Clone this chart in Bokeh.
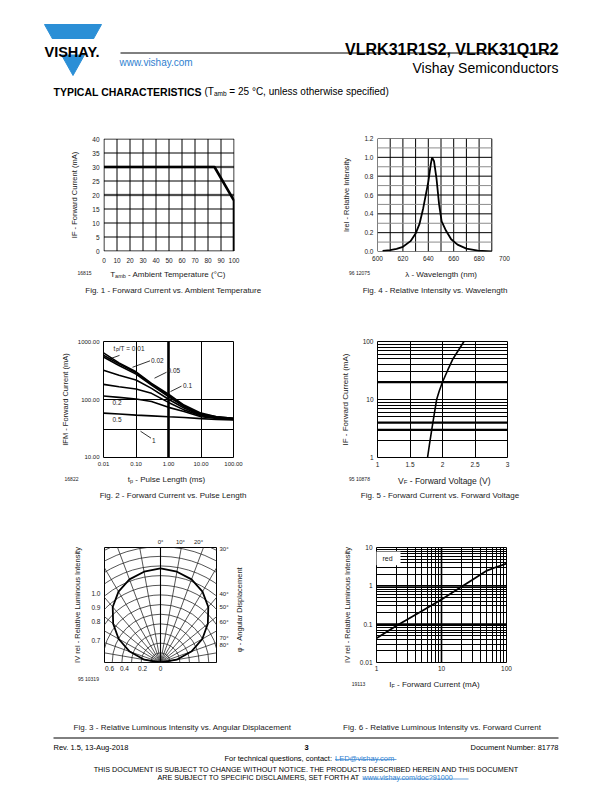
import math
from bokeh.plotting import figure
from bokeh.models import (Range1d, FixedTicker, Label, Span, LinearAxis,
                          PrintfTickFormatter, CustomJSTickFormatter)
from bokeh.layouts import column, row
from bokeh.core.properties import value
from bokeh.embed import file_html
from bokeh.resources import INLINE

FONT = "Liberation Sans"
INK = "#1a1a1a"
BLUE = "#2b8fd6"
LINK = "#2f7fd0"

# ---------------- data ----------------
# Fig. 1 - Forward Current vs. Ambient Temperature
fig1_tamb = [0, 85, 100, 100]
fig1_if = [30, 30, 18, 0]
fig1_xticks = [0, 10, 20, 30, 40, 50, 60, 70, 80, 90, 100]
fig1_yticks = [0, 5, 10, 15, 20, 25, 30, 35, 40]
fig1_gray = [20, 30]

# Fig. 4 - Relative Intensity vs. Wavelength
fig4_wl = [604, 610, 615, 620, 626, 630, 633, 636, 640, 642, 643, 644.5,
           646.5, 648.5, 650.5, 654, 658, 663, 670, 679, 690]
fig4_rel = [0.007, 0.015, 0.028, 0.05, 0.11, 0.19, 0.29, 0.46, 0.74, 0.93, 1.0, 0.96,
            0.77, 0.5, 0.32, 0.22, 0.13, 0.073, 0.031, 0.01, 0.0]
fig4_xticks = [600, 620, 640, 660, 680, 700]
fig4_yticks = [0.0, 0.2, 0.4, 0.6, 0.8, 1.0, 1.2]
fig4_xgrid = [600, 610, 620, 630, 640, 650, 660, 670, 680, 690]
fig4_ygrid = [0.0, 0.1, 0.2, 0.3, 0.4, 0.5, 0.6, 0.7, 0.8, 0.9, 1.0, 1.1, 1.2]

# Fig. 2 - Forward Current vs. Pulse Length (one list per duty cycle tp/T)
fig2_tp = [0.01, 0.03, 0.1, 0.3, 1, 3, 10, 30, 100]
fig2_ifm_d001 = [645, 434, 303, 190, 124, 80, 58, 50, 47]
fig2_ifm_d002 = [589, 416, 291, 185, 118, 77, 56, 50, 47]
fig2_ifm_d005 = [550, 390, 276, 178, 112, 75, 55, 49, 46]
fig2_ifm_d01 = [324, 265, 218, 156, 101, 71, 53, 49, 45.5]
fig2_ifm_d02 = [183, 167, 152, 128, 89, 66, 52, 48, 45.5]
fig2_ifm_d05 = [115, 109, 102, 92, 73, 62, 50, 47, 45]
fig2_ifm_d1 = [58, 56, 53.5, 52, 50, 48.5, 46.5, 45, 44]
fig2_xticks = [0.01, 0.1, 1, 10, 100]
fig2_yticks = [10, 100, 1000]
fig2_xgrid = [0.1, 10]
fig2_ygrid = [30, 100]

# Fig. 5 - Forward Current vs. Forward Voltage
fig5_vf = [1.77, 1.80, 1.83, 1.87, 1.91, 1.95, 2.00, 2.08, 2.16, 2.25, 2.33]
fig5_if = [1.0, 1.7, 2.8, 5.3, 10, 14, 20, 32, 50, 72, 100]
fig5_xticks = [1, 1.5, 2, 2.5, 3]
fig5_yticks = [1, 10, 100]
fig5_xgrid = [1.5, 2, 2.5]
fig5_ygrid = [2, 3, 4, 5, 6, 7, 8, 9, 10, 20, 30, 40, 50, 60, 70, 80, 90]
fig5_ybold = [3, 4, 20]

# Fig. 3 - Relative Luminous Intensity vs. Angular Displacement
fig3_angle = [-90, -80, -70, -60, -50, -40, -30, -20, -10, 0, 10, 20, 30, 40, 50, 60, 70, 80, 90]
fig3_rel = [0.0, 0.17, 0.34, 0.5, 0.64, 0.77, 0.87, 0.94, 0.98, 1.0,
            0.98, 0.94, 0.87, 0.77, 0.64, 0.5, 0.34, 0.17, 0.0]
fig3_circles = [0.1, 0.2, 0.3, 0.4, 0.5, 0.6, 0.7, 0.8, 0.9, 1.0, 1.1, 1.2, 1.3]
fig3_rays = [-90, -80, -70, -60, -50, -40, -30, -20, -10, 0, 10, 20, 30, 40, 50, 60, 70, 80, 90]
fig3_left_pos = [0.732, 0.587, 0.432, 0.235]
fig3_left_lab = ["1.0", "0.9", "0.8", "0.7"]
fig3_right_pos = [1.208, 0.732, 0.587, 0.432, 0.256, 0.183]
fig3_right_lab = ["30°", "40°", "50°", "60°", "70°", "80°"]
fig3_top_pos = [0.0, 0.207, 0.394]
fig3_top_lab = ["0°", "10°", "20°"]
fig3_bot_pos = [-0.528, -0.373, -0.186, 0.0]
fig3_bot_lab = ["0.6", "0.4", "0.2", "0"]

# Fig. 6 - Relative Luminous Intensity vs. Forward Current
fig6_if = [1, 2, 5, 10, 20, 30, 50, 70, 100]
fig6_iv = [0.043, 0.09, 0.22, 0.44, 0.93, 1.45, 2.5, 3.1, 3.8]
fig6_xticks = [1, 10, 100]
fig6_yticks = [0.01, 0.1, 1, 10]
fig6_xgrid = [2, 3, 4, 5, 6, 7, 8, 9, 10, 20, 30, 40, 50, 60, 70, 80, 90]
fig6_ygrid = [0.02, 0.03, 0.04, 0.05, 0.06, 0.07, 0.08, 0.09, 0.1,
              0.2, 0.3, 0.4, 0.5, 0.6, 0.7, 0.8, 0.9, 1, 2, 3, 4, 5, 6, 7, 8, 9]
fig6_xbold = [10]
fig6_ybold = [0.1, 1]

# ---------------- text metrics (Helvetica/Arial widths per 1000 em) ----------------
_W = {" ": 278, "!": 278, "(": 333, ")": 333, "-": 333, ".": 278, "/": 278, ",": 278,
      ":": 278, "=": 584, "°": 400, "@": 1015, "?": 556, "λ": 560, "φ": 600,
      "A": 667, "B": 667, "C": 722, "D": 722, "E": 667, "F": 611, "G": 778, "H": 722,
      "I": 278, "J": 500, "K": 667, "L": 556, "M": 833, "N": 722, "O": 778, "P": 667,
      "Q": 778, "R": 722, "S": 667, "T": 611, "U": 722, "V": 667, "W": 944, "X": 667,
      "Y": 667, "Z": 611, "a": 556, "b": 556, "c": 500, "d": 556, "e": 556, "f": 278,
      "g": 556, "h": 556, "i": 222, "j": 222, "k": 500, "l": 222, "m": 833, "n": 556,
      "o": 556, "p": 556, "q": 556, "r": 333, "s": 500, "t": 278, "u": 556, "v": 500,
      "w": 722, "x": 500, "y": 500, "z": 500}


def text_width(s, size):
    return sum(_W.get(ch, 556) for ch in s) * size / 1000.0


# ---------------- helpers ----------------
def to_data(g, px, py):
    fx = (px - g["L"]) / (g["R"] - g["L"])
    fy = (g["B"] - py) / (g["B"] - g["T"])

    def interp(a, b, f, log):
        if log:
            la, lb = math.log10(a), math.log10(b)
            return 10 ** (la + f * (lb - la))
        return a + f * (b - a)
    return interp(g["x0"], g["x1"], fx, g["xlog"]), interp(g["y0"], g["y1"], fy, g["ylog"])


def lab(p, g, px, py, s, size="7.5px", align="center", baseline="middle", bg=None):
    x, y = to_data(g, px, py)
    l = Label(x=x, y=y, text=s, text_font=FONT, text_font_size=size,
              text_align=align, text_baseline=baseline, text_color=INK)
    if bg is not None:
        l.background_fill_color = bg
    p.add_layout(l)


def num_fmt():
    return CustomJSTickFormatter(code="return String(Math.round(tick * 1000) / 1000);")


def list_fmt(pos, labels):
    return CustomJSTickFormatter(args=dict(tpos=pos, tlab=labels), code="""
        let best = 0; let bd = Infinity;
        for (let i = 0; i < tpos.length; i++) {
            const d = Math.abs(tpos[i] - tick);
            if (d < bd) { bd = d; best = i; }
        }
        return tlab[best];
    """)


def style_axis(ax, tick_size="6.5px", label_size="7.5px", standoff=4, label_standoff=4):
    ax.axis_line_color = None
    ax.major_tick_in = 0
    ax.major_tick_out = 0
    ax.minor_tick_in = 0
    ax.minor_tick_out = 0
    ax.major_tick_line_color = None
    ax.minor_tick_line_color = None
    ax.major_label_text_font = FONT
    ax.major_label_text_font_size = tick_size
    ax.major_label_text_color = INK
    ax.major_label_standoff = standoff
    ax.axis_label_text_font = FONT
    ax.axis_label_text_font_size = label_size
    ax.axis_label_text_font_style = "normal"
    ax.axis_label_text_color = INK
    ax.axis_label_standoff = label_standoff


def chart(g, x_type="linear", y_type="linear"):
    p = figure(width=g["right"] - g["left"], height=g["bottom"] - g["top"],
               x_range=Range1d(g["x0"], g["x1"]), y_range=Range1d(g["y0"], g["y1"]),
               x_axis_type=x_type, y_axis_type=y_type,
               output_backend="svg", toolbar_location=None,
               min_border_left=g["L"] - g["left"], min_border_right=g["right"] - g["R"],
               min_border_top=g["T"] - g["top"], min_border_bottom=g["bottom"] - g["B"])
    p.background_fill_color = "white"
    p.border_fill_color = "white"
    p.outline_line_color = "black"
    p.outline_line_width = 1
    p.outline_line_alpha = 1
    p.grid.grid_line_color = "black"
    p.grid.grid_line_width = 1
    p.grid.grid_line_alpha = 1
    p.grid.minor_grid_line_color = None
    return p


def page_fig(w, h, x_left, y_top):
    p = figure(width=w, height=h, x_range=Range1d(x_left, x_left + w),
               y_range=Range1d(y_top + h, y_top),
               output_backend="svg", toolbar_location=None,
               x_axis_location=None, y_axis_location=None,
               min_border_left=0, min_border_right=0, min_border_top=0, min_border_bottom=0)
    p.grid.visible = False
    p.outline_line_color = None
    p.background_fill_color = "white"
    p.border_fill_color = "white"
    return p


def txt(p, x, y, s, size, style="normal", align="left", color=INK, baseline="alphabetic"):
    p.text(x=[x], y=[y], text=[s], text_font=value(FONT), text_font_size=value(size),
           text_font_style=value(style), text_align=align, text_baseline=baseline,
           text_color=color)


def rich(p, x, y, parts, align="left", color=INK):
    """parts: (text, font size in px, baseline shift in px)"""
    total = sum(text_width(t, s) for t, s, _ in parts)
    if align == "center":
        x -= total / 2.0
    elif align == "right":
        x -= total
    for t, s, dy in parts:
        lead = len(t) - len(t.lstrip(" "))
        txt(p, x + text_width(" " * lead, s), y + dy, t.strip(" "), "%gpx" % s, color=color)
        x += text_width(t, s)


# ---------------- header (page y 0..128) ----------------
hdr = page_fig(612, 128, 0, 0)
hdr.patch([44, 101, 72.5], [24, 24, 75], color=BLUE)
hdr.quad(left=[38], right=[108], top=[39], bottom=[53.5], color="white")
txt(hdr, 71.5, 51.5, "VISHAY.", "14.5px", style="bold", align="center", color="black")
hdr.segment(x0=[120], y0=[52.5], x1=[558], y1=[52.5], line_color="black", line_width=1)
txt(hdr, 558, 48.5, "VLRK31R1S2, VLRK31Q1R2", "16px", style="bold", align="right", color="black")
txt(hdr, 119, 62, "www.vishay.com", "10px", color=LINK)
txt(hdr, 558, 67.5, "Vishay Semiconductors", "14px", align="right", color="black")
txt(hdr, 53, 91, "TYPICAL CHARACTERISTICS", "10.5px", style="bold", color="black")
rich(hdr, 204, 91, [("(T", 10, 0), ("amb", 6.5, 2.2),
                    (" = 25 °C, unless otherwise specified)", 10, 0)], color="black")

# ---------------- row 1 charts (page y 128..267) ----------------
# frame 131 x 113 px: 1.3 px per °C and 2.8 px per mA, grid lines on pixel centres
g1 = dict(left=0, right=306, top=128, bottom=267, L=103, R=234, T=138, B=251,
          x0=-0.5 / 1.3, x1=100 + 0.5 / 1.3, y0=-0.5 / 2.8, y1=40 + 0.5 / 2.8,
          xlog=False, ylog=False)
f1 = chart(g1)
f1.grid.visible = False
f1.outline_line_color = None
f1.xaxis.ticker = FixedTicker(ticks=fig1_xticks)
f1.yaxis.ticker = FixedTicker(ticks=fig1_yticks)
style_axis(f1.xaxis[0], standoff=6)
style_axis(f1.yaxis[0], label_standoff=10)
f1.yaxis.axis_label = "IF - Forward Current (mA)"
gx, gy = fig1_xticks, fig1_yticks
f1.segment(x0=[fig1_xticks[0]] * len(fig1_gray), y0=fig1_gray,
           x1=[fig1_xticks[-1]] * len(fig1_gray), y1=fig1_gray,
           line_color="#9a9a9a", line_width=2.4)
f1.segment(x0=gx, y0=[gy[0]] * len(gx), x1=gx, y1=[gy[-1]] * len(gx),
           line_color="black", line_width=1)
f1.segment(x0=[gx[0]] * len(gy), y0=gy, x1=[gx[-1]] * len(gy), y1=gy,
           line_color="black", line_width=1)
f1.line(fig1_tamb, fig1_if, line_color="black", line_width=2.6)

g4 = dict(left=306, right=612, top=128, bottom=267, L=377, R=504, T=137, B=253,
          x0=600, x1=700, y0=0, y1=1.2, xlog=False, ylog=False)
f4 = chart(g4)
f4.outline_line_color = None
f4.grid.visible = False
f4.xaxis.ticker = FixedTicker(ticks=fig4_xticks)
f4.yaxis.ticker = FixedTicker(ticks=fig4_yticks)
f4.yaxis.formatter = PrintfTickFormatter(format="%.1f")
style_axis(f4.xaxis[0])
style_axis(f4.yaxis[0], label_standoff=10)
f4.yaxis.axis_label = "Irel - Relative Intensity"
x_lo, x_hi = fig4_xgrid[0], fig4_xgrid[-1]
y_lo, y_hi = fig4_ygrid[0], fig4_ygrid[-1]
f4.segment(x0=fig4_xgrid, y0=[y_lo] * len(fig4_xgrid), x1=fig4_xgrid, y1=[y_hi] * len(fig4_xgrid),
           line_color="black", line_width=1)
hcol = ["black" if i % 2 == 0 else "#8c8c8c" for i in range(len(fig4_ygrid))]
f4.segment(x0=[x_lo] * len(fig4_ygrid), y0=fig4_ygrid, x1=[x_hi] * len(fig4_ygrid), y1=fig4_ygrid,
           line_color=hcol, line_width=1)
f4.line(fig4_wl, fig4_rel, line_color="black", line_width=1.8)

# strip under row 1 (page y 267..310)
s1 = page_fig(612, 43, 0, 267)
rich(s1, 168, 273.8, [("T", 8, 0), ("amb", 5.5, 1.8), (" - Ambient Temperature (°C)", 8, 0)], align="center")
txt(s1, 84, 272.8, "16815", "5px", align="center")
txt(s1, 173, 289.8, "Fig. 1 - Forward Current vs. Ambient Temperature", "8px", align="center")
rich(s1, 441, 273.8, [("λ - Wavelength (nm)", 8, 0)], align="center")
txt(s1, 359, 272.8, "96 12075", "5px", align="center")
txt(s1, 434.5, 289.8, "Fig. 4 - Relative Intensity vs. Wavelength", "8px", align="center")

# ---------------- row 2 charts (page y 310..471) ----------------
# 58 px per decade vertically, range padded by half a pixel so the 100 line is crisp
yk = 10 ** (0.5 / 58)
g2 = dict(left=0, right=306, top=310, bottom=471, L=103, R=233, T=340, B=457,
          x0=0.01, x1=100, y0=10 / yk, y1=1000 * yk, xlog=True, ylog=True)
f2 = chart(g2, "log", "log")
f2.xaxis.ticker = FixedTicker(ticks=fig2_xticks)
f2.yaxis.ticker = FixedTicker(ticks=fig2_yticks)
f2.xaxis.formatter = PrintfTickFormatter(format="%.2f")
f2.yaxis.formatter = PrintfTickFormatter(format="%.2f")
f2.xgrid.ticker = FixedTicker(ticks=fig2_xgrid)
f2.ygrid.ticker = FixedTicker(ticks=fig2_ygrid)
style_axis(f2.xaxis[0], tick_size="6px")
style_axis(f2.yaxis[0], tick_size="6px", label_standoff=5)
f2.yaxis.axis_label = "IFM - Forward Current (mA)"
f2.add_layout(Span(location=1, dimension="height", line_color="black", line_width=2.6, level="underlay"))
for series in [fig2_ifm_d001, fig2_ifm_d002, fig2_ifm_d005, fig2_ifm_d01,
               fig2_ifm_d02, fig2_ifm_d05, fig2_ifm_d1]:
    f2.line(fig2_tp, series, line_color="black", line_width=1.6)
leaders = [((119, 354), (108, 358)), ((149.5, 359.5), (132, 366)), ((166, 371), (154, 377)),
           ((181, 385), (170, 390.5)), ((150.5, 437.5), (140, 430.5))]
lx0, ly0, lx1, ly1 = [], [], [], []
for (a, b) in leaders:
    xa, ya = to_data(g2, *a)
    xb, yb = to_data(g2, *b)
    lx0.append(xa); ly0.append(ya); lx1.append(xb); ly1.append(yb)
f2.segment(x0=lx0, y0=ly0, x1=lx1, y1=ly1, line_color="black", line_width=0.8)
lab(f2, g2, 113, 347.5, "t", size="6.5px", align="left")
lab(f2, g2, 115.6, 349.5, "P", size="4.5px", align="left")
lab(f2, g2, 118.3, 347.5, "/T = 0.01", size="6.5px", align="left")
lab(f2, g2, 150.5, 359, "0.02", size="6.5px", align="left")
lab(f2, g2, 167, 369.5, "0.05", size="6.5px", align="left")
lab(f2, g2, 182.5, 384, "0.1", size="6.5px", align="left")
lab(f2, g2, 112, 402, "0.2", size="6.5px", align="left", bg="white")
lab(f2, g2, 112, 418.5, "0.5", size="6.5px", align="left", bg="white")
lab(f2, g2, 151.5, 439.5, "1", size="6.5px", align="left")

g5 = dict(left=306, right=612, top=310, bottom=471, L=377, R=507, T=341, B=458,
          x0=1, x1=3, y0=1, y1=100, xlog=False, ylog=True)
f5 = chart(g5, "linear", "log")
f5.xaxis.ticker = FixedTicker(ticks=fig5_xticks)
f5.yaxis.ticker = FixedTicker(ticks=fig5_yticks)
f5.xaxis.formatter = num_fmt()
f5.yaxis.formatter = num_fmt()
f5.xgrid.ticker = FixedTicker(ticks=fig5_xgrid)
f5.ygrid.ticker = FixedTicker(ticks=fig5_ygrid)
style_axis(f5.xaxis[0])
style_axis(f5.yaxis[0], label_size="8px", label_standoff=10)
f5.yaxis.axis_label = "IF - Forward Current (mA)"
for v in fig5_ybold:
    f5.add_layout(Span(location=v, dimension="width", line_color="black", line_width=2.2, level="underlay"))
f5.line(fig5_vf, fig5_if, line_color="black", line_width=1.6)

# strip under row 2 (page y 471..518)
s2 = page_fig(612, 47, 0, 471)
rich(s2, 166, 479, [("t", 8, 0), ("p", 5.5, 1.8), (" - Pulse Length (ms)", 8, 0)], align="center")
txt(s2, 71, 478.8, "16822", "5px", align="center")
txt(s2, 172.5, 494.8, "Fig. 2 - Forward Current vs. Pulse Length", "8px", align="center")
rich(s2, 444, 480, [("V", 8.5, 0), ("F", 6, 1.8), (" - Forward Voltage (V)", 8.5, 0)], align="center")
txt(s2, 359, 478.8, "95 10878", "5px", align="center")
txt(s2, 439.5, 494.8, "Fig. 5 - Forward Current vs. Forward Voltage", "8px", align="center")

# ---------------- row 3 charts (page y 518..675) ----------------
g3 = dict(left=0, right=232, top=518, bottom=675, L=104, R=216, T=544, B=662,
          x0=-0.58, x1=0.58, y0=0, y1=1.2222, xlog=False, ylog=False)
f3 = chart(g3)
f3.grid.visible = False
f3.xaxis.ticker = FixedTicker(ticks=fig3_bot_pos)
f3.xaxis.formatter = list_fmt(fig3_bot_pos, fig3_bot_lab)
f3.yaxis.ticker = FixedTicker(ticks=fig3_left_pos)
f3.yaxis.formatter = list_fmt(fig3_left_pos, fig3_left_lab)
style_axis(f3.xaxis[0], standoff=3)
style_axis(f3.yaxis[0], standoff=4, label_standoff=6)
f3.yaxis.axis_label = "IV rel - Relative Luminous Intensity"
ax_r = LinearAxis(ticker=FixedTicker(ticks=fig3_right_pos),
                  formatter=list_fmt(fig3_right_pos, fig3_right_lab))
style_axis(ax_r, tick_size="6px", standoff=3)
f3.add_layout(ax_r, "right")
ax_t = LinearAxis(ticker=FixedTicker(ticks=fig3_top_pos),
                  formatter=list_fmt(fig3_top_pos, fig3_top_lab))
style_axis(ax_t, tick_size="6px", standoff=3)
f3.add_layout(ax_t, "above")
n = len(fig3_circles)
f3.circle(x=[0] * n, y=[0] * n, radius=fig3_circles, fill_color=None,
          line_color="#2a2a2a", line_width=0.8)
rx1 = [2 * math.sin(math.radians(a)) for a in fig3_rays]
ry1 = [2 * math.cos(math.radians(a)) for a in fig3_rays]
f3.segment(x0=[0] * len(fig3_rays), y0=[0] * len(fig3_rays), x1=rx1, y1=ry1,
           line_color="#2a2a2a", line_width=0.8)
f3.segment(x0=[0], y0=[0], x1=[0], y1=[2], line_color="black", line_width=1.1)
cx = [r * math.sin(math.radians(a)) for a, r in zip(fig3_angle, fig3_rel)]
cy = [r * math.cos(math.radians(a)) for a, r in zip(fig3_angle, fig3_rel)]
f3.line(cx, cy, line_color="black", line_width=1.8)

# narrow panel right of Fig. 3 holding its right-hand title (page x 232..306)
f3r = figure(width=74, height=157, x_range=Range1d(232, 306), y_range=Range1d(-675, -518),
             output_backend="svg", toolbar_location=None,
             x_axis_location=None, y_axis_location=None,
             min_border_left=0, min_border_right=0, min_border_top=0, min_border_bottom=0)
f3r.grid.visible = False
f3r.outline_line_color = None
f3r.text(x=[239], y=[-603], text=["φ - Angular Displacement"], angle=math.pi / 2,
         text_font=value(FONT), text_font_size=value("7.5px"), text_align="center",
         text_baseline="middle", text_color=INK)

g6 = dict(left=306, right=612, top=518, bottom=675, L=376, R=506, T=547, B=663,
          x0=1, x1=100, y0=0.01, y1=10, xlog=True, ylog=True)
f6 = chart(g6, "log", "log")
f6.xaxis.ticker = FixedTicker(ticks=fig6_xticks)
f6.yaxis.ticker = FixedTicker(ticks=fig6_yticks)
f6.xaxis.formatter = num_fmt()
f6.yaxis.formatter = num_fmt()
f6.xgrid.ticker = FixedTicker(ticks=fig6_xgrid)
f6.ygrid.ticker = FixedTicker(ticks=fig6_ygrid)
style_axis(f6.xaxis[0], standoff=3)
style_axis(f6.yaxis[0], standoff=4, label_standoff=5)
f6.yaxis.axis_label = "IV rel - Relative Luminous Intensity"
for v in fig6_xbold:
    f6.add_layout(Span(location=v, dimension="height", line_color="black", line_width=1.6, level="underlay"))
for v in fig6_ybold:
    f6.add_layout(Span(location=v, dimension="width", line_color="black", line_width=1.6, level="underlay"))
qx0, qy0 = to_data(g6, 374, 565)
qx1, qy1 = to_data(g6, 400, 551)
f6.quad(left=[qx0], right=[qx1], bottom=[qy0], top=[qy1], fill_color="white", line_color=None)
f6.line(fig6_if, fig6_iv, line_color="black", line_width=1.8)
lab(f6, g6, 387, 558.5, "red", size="7px")

# strip under row 3 (page y 675..732)
s3 = page_fig(612, 57, 0, 675)
txt(s3, 88, 678.8, "95 10319", "5px", align="center")
txt(s3, 182, 726.8, "Fig. 3 - Relative Luminous Intensity vs. Angular Displacement", "8px", align="center")
rich(s3, 434, 684, [("I", 8, 0), ("F", 5.5, 1.8), (" - Forward Current (mA)", 8, 0)], align="center")
txt(s3, 358, 683, "19113", "5px", align="center")
txt(s3, 441.5, 726.8, "Fig. 6 - Relative Luminous Intensity vs. Forward Current", "8px", align="center")

# ---------------- footer (page y 732..792) ----------------
ftr = page_fig(612, 60, 0, 732)
ftr.segment(x0=[53], y0=[737.5], x1=[558], y1=[737.5], line_color="black", line_width=1)
txt(ftr, 53, 746.5, "Rev. 1.5, 13-Aug-2018", "7.5px", color="black")
txt(ftr, 306, 747, "3", "7.5px", style="bold", align="center", color="black")
txt(ftr, 558, 746.5, "Document Number: 81778", "7.5px", align="right", color="black")
txt(ftr, 331.5, 757.5, "For technical questions, contact:", "7.5px", align="right", color="black")
txt(ftr, 334.5, 757.5, "LED@vishay.com", "7.5px", color=LINK)
ftr.segment(x0=[334.5], y0=[759], x1=[396], y1=[759], line_color=LINK, line_width=0.7)
txt(ftr, 306, 768.5, "THIS DOCUMENT IS SUBJECT TO CHANGE WITHOUT NOTICE. THE PRODUCTS DESCRIBED HEREIN AND THIS DOCUMENT",
    "7.2px", align="center", color="black")
txt(ftr, 359.5, 777, "ARE SUBJECT TO SPECIFIC DISCLAIMERS, SET FORTH AT", "7.2px", align="right", color="black")
txt(ftr, 362, 777, "www.vishay.com/doc?91000", "7.2px", color=LINK)
ftr.segment(x0=[362], y0=[778.5], x1=[468], y1=[778.5], line_color=LINK, line_width=0.7)

page = column(hdr, row(f1, f4), s1, row(f2, f5), s2, row(f3, f3r, f6), s3, ftr)
open("out.html", "w").write(file_html(page, INLINE, title="VLRK31R1S2, VLRK31Q1R2"))
